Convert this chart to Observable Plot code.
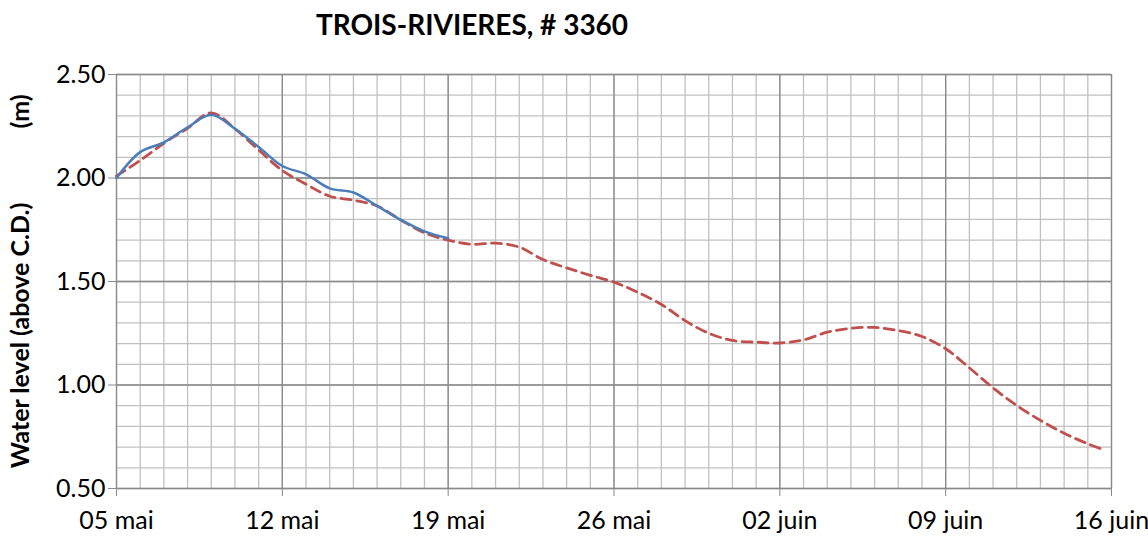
<!DOCTYPE html>
<html><head><meta charset="utf-8">
<script src="https://cdn.jsdelivr.net/npm/d3@7"></script>
<script src="https://cdn.jsdelivr.net/npm/@observablehq/plot@0.6"></script>
<style>
body{margin:0;background:#fff;}
#title{height:50px;width:944px;text-align:center;font:bold 28px Lato;line-height:48px;color:#000;}
</style></head><body>
<div id="title">TROIS-RIVIERES, # 3360</div>
<div id="chart"></div>
<script>
// ---- data ----
const startDate = "2013-05-05";
const predictedDays = [0,1,2,3,4,5,6,7,8,9,10,11,12,13,14,15,16,17,18,19,20,21,22,23,24,25,26,27,28,29,30,31,32,33,34,35,36,37,38,39,40,41,41.65];
const predictedLevel = [2.01,2.085,2.168,2.24,2.315,2.238,2.135,2.036,1.97,1.912,1.893,1.865,1.797,1.735,1.70,1.68,1.685,1.666,1.606,1.566,1.53,1.497,1.448,1.389,1.311,1.25,1.215,1.207,1.203,1.218,1.255,1.274,1.278,1.263,1.234,1.175,1.083,0.986,0.901,0.829,0.767,0.716,0.688];
const observedDays = [0,1,2,3,4,5,6,7,8,9,10,11,12,13,14];
const observedLevel = [2.00,2.125,2.172,2.245,2.305,2.238,2.15,2.058,2.018,1.95,1.93,1.865,1.798,1.742,1.709];
const tickDates = ["2013-05-05","2013-05-12","2013-05-19","2013-05-26","2013-06-02","2013-06-09","2013-06-16"];
const tickLabels = ["05 mai","12 mai","19 mai","26 mai","02 juin","09 juin","16 juin"];
const yTicks = [0.5,1.0,1.5,2.0,2.5];
const yLabel = "Water level (above C.D.)";
const yUnit = "(m)";

// ---- build ----
const t0 = new Date(startDate + "T00:00:00Z");
const toDate = d => new Date(t0.getTime() + d * 86400000);
const predicted = predictedDays.map((d, i) => ({date: toDate(d), level: predictedLevel[i]}));
const observed = observedDays.map((d, i) => ({date: toDate(d), level: observedLevel[i]}));
const xTicks = tickDates.map(s => new Date(s + "T00:00:00Z"));
const xDomain = [xTicks[0], xTicks[xTicks.length - 1]];
const dailyTicks = d3.utcDay.range(xDomain[0], d3.utcDay.offset(xDomain[1], 1));
const minorY = d3.range(5, 26).map(v => v / 10);

const chart = Plot.plot({
  width: 1148,
  height: 487,
  marginTop: 24,
  marginBottom: 49,
  marginLeft: 116,
  marginRight: 37,
  style: {fontFamily: "Lato", fontSize: "25px", color: "#000", background: "#fff"},
  x: {type: "utc", domain: xDomain},
  y: {domain: [0.5, 2.5]},
  marks: [
    Plot.gridX({ticks: dailyTicks, stroke: "#c0c0c0", strokeOpacity: 1, strokeWidth: 1.3}),
    Plot.gridY({ticks: minorY, stroke: "#c0c0c0", strokeOpacity: 1, strokeWidth: 1.3}),
    Plot.gridX({ticks: xTicks, stroke: "#8a8a8a", strokeOpacity: 1, strokeWidth: 1.3}),
    Plot.gridY({ticks: yTicks, stroke: "#8a8a8a", strokeOpacity: 1, strokeWidth: 1.3}),
    Plot.axisX({ticks: xTicks, tickFormat: (d, i) => tickLabels[i], tickSize: 8, tickPadding: 15, stroke: "#8a8a8a", fill: "#000", label: null}),
    Plot.axisY({ticks: yTicks, tickFormat: d => d.toFixed(2), tickSize: 8, tickPadding: 3, stroke: "#8a8a8a", fill: "#000", label: null}),
    Plot.line(predicted, {x: "date", y: "level", stroke: "#C0504D", strokeWidth: 2.8, strokeDasharray: "10,6", curve: "catmull-rom"}),
    Plot.line(observed, {x: "date", y: "level", stroke: "#4A7EBB", strokeWidth: 2.5, curve: "catmull-rom"}),
    Plot.text([yLabel], {frameAnchor: "left", textAnchor: "middle", rotate: -90, dx: -96, dy: 54, fontWeight: "bold", fontSize: 25, fill: "#000"}),
    Plot.text([yUnit], {frameAnchor: "left", textAnchor: "middle", rotate: -90, dx: -96, dy: -170, fontWeight: "bold", fontSize: 25, fill: "#000"})
  ]
});
document.getElementById("chart").appendChild(chart);
</script>
</body></html>
